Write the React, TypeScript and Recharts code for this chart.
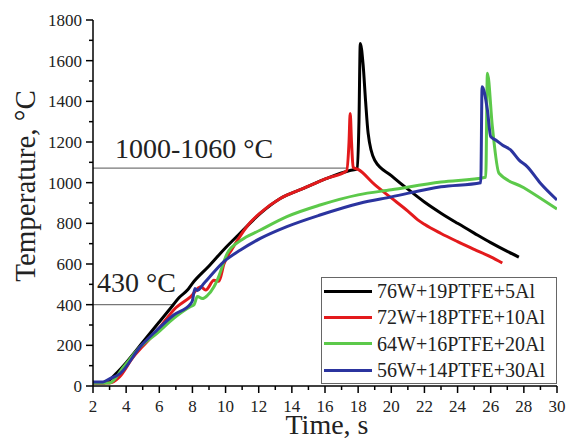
import React from 'react';
import { LineChart, Line, XAxis, YAxis, ReferenceLine, Legend } from 'recharts';

const FONT = "'Liberation Serif', 'Times New Roman', serif";

// time (s) / temperature (°C)
const blackTime = [2, 2.7, 3, 3.5, 4, 5, 6, 6.8, 7.2, 7.7, 8, 9, 10, 10.8, 12.1, 13.3, 14.7, 16.1, 17.5, 17.95, 18.05, 18.13, 18.3, 18.45, 18.6, 19, 20, 21, 22, 23, 24, 25, 26, 27, 27.7];
const blackTemp = [15, 15, 30, 70, 115, 215, 315, 395, 435, 472, 505, 590, 680, 745, 849, 922, 972, 1021, 1060, 1068, 1300, 1685, 1580, 1400, 1245, 1110, 1035, 968, 905, 850, 800, 752, 705, 662, 634];

const redTime = [2, 3, 3.6, 4.4, 5, 5.9, 7, 7.9, 8.5, 8.8, 9.3, 9.6, 9.9, 10.4, 10.9, 11.5, 12.1, 13.3, 14.7, 16.1, 17.3, 17.45, 17.52, 17.6, 17.7, 18, 19, 20, 21, 21.6, 22, 23, 24, 25, 26, 26.7];
const redTemp = [15, 15, 45, 140, 195, 275, 385, 440, 488, 472, 520, 515, 600, 675, 740, 805, 852, 922, 972, 1021, 1058, 1200, 1340, 1200, 1075, 1065, 990, 925, 860, 817, 795, 750, 710, 672, 635, 605];

const greenTime = [2, 3, 3.85, 4.85, 5.86, 6.87, 7.87, 8.1, 8.3, 8.6, 8.9, 9.3, 9.5, 10.1, 10.9, 12.1, 13.7, 15.7, 18, 20, 23, 25.7, 25.8, 26.1, 26.5, 28, 30];
const greenTemp = [15, 15, 95, 193, 259, 333, 390, 400, 440, 430, 445, 488, 521, 652, 715, 767, 833, 890, 940, 965, 1003, 1027, 1538, 1275, 1046, 975, 870];

const blueTime = [2, 2.6, 3, 3.65, 4.85, 5.86, 6.87, 7.9, 8.0, 8.15, 8.3, 8.7, 9.9, 10.9, 12.1, 13.7, 15.7, 18.1, 20, 23, 25.4, 25.48, 25.8, 26.0, 26.3, 26.7, 27.2, 27.7, 28.2, 29, 30];
const blueTemp = [20, 20, 35, 62, 193, 275, 349, 405, 420, 480, 470, 505, 612, 669, 726, 784, 841, 899, 930, 980, 1000, 1472, 1357, 1226, 1210, 1185, 1161, 1112, 1079, 997, 915];

const xTicks = [2, 3, 4, 5, 6, 7, 8, 9, 10, 11, 12, 13, 14, 15, 16, 17, 18, 19, 20, 21, 22, 23, 24, 25, 26, 27, 28, 29, 30];
const yTicks = [0, 100, 200, 300, 400, 500, 600, 700, 800, 900, 1000, 1100, 1200, 1300, 1400, 1500, 1600, 1700, 1800];
const xMajor = [2, 4, 6, 8, 10, 12, 14, 16, 18, 20, 22, 24, 26, 28, 30];
const yMajor = [0, 200, 400, 600, 800, 1000, 1200, 1400, 1600, 1800];

const zip = (t: number[], v: number[]) => t.map((x, i) => ({ x, y: v[i] }));

const series = [
  { name: '76W+19PTFE+5Al', color: '#000000', data: zip(blackTime, blackTemp) },
  { name: '72W+18PTFE+10Al', color: '#e31a1c', data: zip(redTime, redTemp) },
  { name: '64W+16PTFE+20Al', color: '#5cc94a', data: zip(greenTime, greenTemp) },
  { name: '56W+14PTFE+30Al', color: '#2b349f', data: zip(blueTime, blueTemp) },
];

const XTick = (props: any) => {
  const { x, y, payload } = props;
  const major = xMajor.includes(payload.value);
  return (
    <g>
      <line x1={x} y1={y} x2={x} y2={y + (major ? 7 : 4)} stroke="#000" strokeWidth={1.5} />
      {major && (
        <text x={x} y={y + 26} textAnchor="middle" fontSize={17} fontFamily={FONT} fill="#222">
          {payload.value}
        </text>
      )}
    </g>
  );
};

const YTick = (props: any) => {
  const { x, y, payload } = props;
  const major = yMajor.includes(payload.value);
  return (
    <g>
      <line x1={x} y1={y} x2={x - (major ? 7 : 4)} y2={y} stroke="#000" strokeWidth={1.5} />
      {major && (
        <text x={x - 11} y={y + 6} textAnchor="end" fontSize={17} fontFamily={FONT} fill="#222">
          {payload.value}
        </text>
      )}
    </g>
  );
};

const LegendBox = () => (
  <div
    style={{
      boxSizing: 'border-box',
      width: 236,
      height: 107,
      border: '1px solid #666',
      background: '#fff',
      fontFamily: FONT,
      fontSize: 20,
      color: '#222',
    }}
  >
    {series.map((s) => (
      <div key={s.name} style={{ display: 'flex', alignItems: 'center', height: 26.3 }}>
        <div style={{ width: 48, height: 3, background: s.color, marginLeft: 2 }} />
        <span style={{ marginLeft: 5, lineHeight: '20px' }}>{s.name}</span>
      </div>
    ))}
  </div>
);

export default function App() {
  return (
    <div style={{ position: 'absolute', left: 0, top: 0, background: '#fff' }}>
      <LineChart width={569} height={439} margin={{ top: 20, right: 12, bottom: 0, left: 0 }}>
        <XAxis
          type="number"
          dataKey="x"
          domain={[2, 30]}
          ticks={xTicks}
          interval={0}
          allowDataOverflow
          height={53}
          tickSize={0}
          tickMargin={0}
          tickLine={false}
          tick={<XTick />}
          axisLine={{ stroke: '#000', strokeWidth: 1.5 }}
          label={{
            content: () => (
              <text x={327} y={434} textAnchor="middle" fontSize={28} fontFamily={FONT} fill="#222">
                Time, s
              </text>
            ),
          }}
        />
        <YAxis
          type="number"
          domain={[0, 1800]}
          ticks={yTicks}
          interval={0}
          width={93}
          tickSize={0}
          tickMargin={0}
          tickLine={false}
          tick={<YTick />}
          axisLine={{ stroke: '#000', strokeWidth: 1.5 }}
          label={{
            content: () => (
              <text
                x={35}
                y={186}
                transform="rotate(-90, 35, 186)"
                textAnchor="middle"
                fontSize={29}
                fontFamily={FONT}
                fill="#222"
              >
                Temperature, °C
              </text>
            ),
          }}
        />
        <ReferenceLine
          segment={[{ x: 2, y: 1072 }, { x: 17.35, y: 1072 }]}
          stroke="#777"
          strokeWidth={1.2}
          label={{
            content: () => (
              <text x={115} y={158} fontSize={28} fontFamily={FONT} fill="#222">
                1000-1060 °C
              </text>
            ),
          }}
        />
        <ReferenceLine
          segment={[{ x: 2, y: 400 }, { x: 6.8, y: 400 }]}
          stroke="#777"
          strokeWidth={1.2}
          label={{
            content: () => (
              <text x={97} y={292} fontSize={28} fontFamily={FONT} fill="#222">
                430 °C
              </text>
            ),
          }}
        />
        {series.map((s) => (
          <Line
            key={s.name}
            data={s.data}
            dataKey="y"
            name={s.name}
            type="monotone"
            stroke={s.color}
            strokeWidth={3}
            dot={false}
            activeDot={false}
            isAnimationActive={false}
          />
        ))}
        <Legend
          layout="vertical"
          align="center"
          verticalAlign="middle"
          content={() => <LegendBox />}
          wrapperStyle={{ left: 321, top: 277, width: 236, height: 107 }}
        />
      </LineChart>
    </div>
  );
}
